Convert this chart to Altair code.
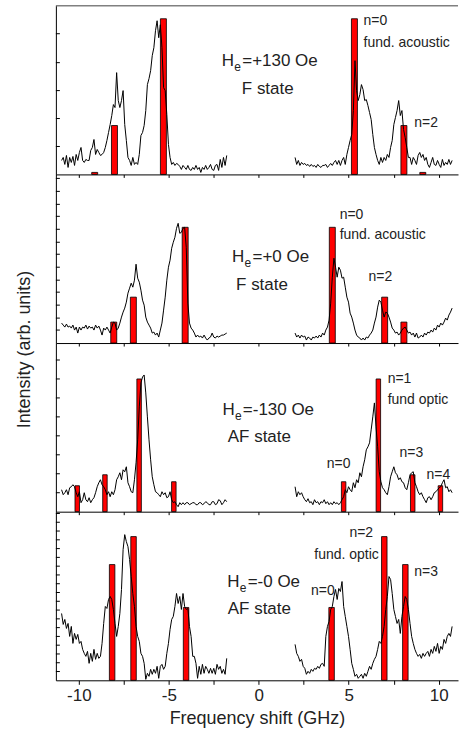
import altair as alt
import pandas as pd

FONT = "Liberation Sans"
TXT = "#222222"
W, H = 403, 169

# frequency grid (GHz) of the two measured branches
freq_left = [-10.96, -10.87, -10.78, -10.69, -10.60, -10.51, -10.42, -10.33, -10.24, -10.15,
             -10.06, -9.97, -9.88, -9.79, -9.70, -9.61, -9.52, -9.43, -9.34, -9.25,
             -9.16, -9.07, -8.98, -8.89, -8.80, -8.71, -8.62, -8.53, -8.44, -8.35,
             -8.26, -8.17, -8.08, -7.99, -7.90, -7.81, -7.72, -7.63, -7.54, -7.45,
             -7.36, -7.27, -7.18, -7.09, -7.00, -6.91, -6.82, -6.73, -6.64, -6.55,
             -6.46, -6.37, -6.28, -6.19, -6.10, -6.01, -5.92, -5.83, -5.74, -5.65,
             -5.56, -5.47, -5.38, -5.29, -5.20, -5.11, -5.02, -4.93, -4.84, -4.75,
             -4.66, -4.57, -4.48, -4.39, -4.30, -4.21, -4.12, -4.03, -3.94, -3.85,
             -3.76, -3.67, -3.58, -3.49, -3.40, -3.31, -3.22, -3.13, -3.04, -2.95,
             -2.86, -2.77, -2.68, -2.59, -2.50, -2.41, -2.32, -2.23, -2.14, -2.05,
             -1.96, -1.87, -1.78]
freq_right = [2.02, 2.11, 2.20, 2.29, 2.38, 2.47, 2.56, 2.65, 2.74, 2.83,
              2.92, 3.01, 3.10, 3.19, 3.28, 3.37, 3.46, 3.55, 3.64, 3.73,
              3.82, 3.91, 4.00, 4.09, 4.18, 4.27, 4.36, 4.45, 4.54, 4.63,
              4.72, 4.81, 4.90, 4.99, 5.08, 5.17, 5.26, 5.35, 5.44, 5.53,
              5.62, 5.71, 5.80, 5.89, 5.98, 6.07, 6.16, 6.25, 6.34, 6.43,
              6.52, 6.61, 6.70, 6.79, 6.88, 6.97, 7.06, 7.15, 7.24, 7.33,
              7.42, 7.51, 7.60, 7.69, 7.78, 7.87, 7.96, 8.05, 8.14, 8.23,
              8.32, 8.41, 8.50, 8.59, 8.68, 8.77, 8.86, 8.95, 9.04, 9.13,
              9.22, 9.31, 9.40, 9.49, 9.58, 9.67, 9.76, 9.85, 9.94, 10.03,
              10.12, 10.21, 10.30, 10.39, 10.48, 10.57, 10.66, 10.75]

# ---- panel 1: He=+130 Oe, F state
p1_left = [14, 17, 10, 19, 7, 17, 12, 18, 9, 20,
           14, 22, 27, 14, 12, 15, 14, 14, 24, 27,
           35, 20, 25, 22, 19, 20, 22, 27, 34, 42,
           50, 59, 70, 67, 102, 74, 67, 74, 84, 50,
           34, 17, 14, 9, 17, 10, 12, 10, 20, 39,
           42, 49, 64, 90, 96, 104, 119, 127, 144, 154,
           137, 150, 127, 87, 84, 60, 30, 17, 10, 12,
           9, 11, 10, 8, 5, 9, 7, 5, 9, 5,
           4, 7, 5, 9, 5, 7, 2, 7, 5, 9,
           5, 7, 10, 5, 4, 9, 10, 4, 15, 7,
           17, 9, 19]
p1_right = [17, 10, 14, 9, 12, 10, 11, 9, 10, 8,
            10, 8, 9, 7, 10, 8, 7, 9, 9, 10,
            7, 9, 11, 9, 12, 14, 10, 14, 9, 14,
            17, 10, 20, 27, 34, 40, 64, 114, 84, 74,
            80, 90, 85, 74, 75, 69, 62, 55, 40, 27,
            20, 14, 10, 17, 12, 17, 14, 20, 17, 27,
            34, 50, 57, 64, 74, 59, 64, 45, 37, 27,
            17, 17, 10, 17, 14, 10, 19, 22, 17, 20,
            14, 17, 10, 7, 12, 17, 10, 9, 14, 10,
            7, 15, 9, 12, 10, 15, 10, 14]
p1_bar_f = [-9.12, -8.02, -5.30, 5.32, 8.07, 9.12]
p1_bar_h = [2, 49, 156, 156, 49, 2]

# ---- panel 2: He=+0 Oe, F state
p2_left = [20, 18, 16, 19, 16, 17, 15, 18, 13, 16,
           10, 16, 13, 16, 15, 18, 14, 17, 15, 16,
           13, 18, 15, 17, 13, 8, 15, 13, 16, 13,
           10, 16, 21, 20, 13, 15, 20, 26, 31, 35,
           41, 50, 55, 60, 56, 63, 79, 65, 61, 53,
           43, 38, 26, 21, 18, 15, 10, 11, 8, 10,
           6, 13, 20, 33, 46, 63, 76, 83, 95, 101,
           106, 115, 120, 110, 111, 115, 116, 96, 40, 20,
           15, 13, 10, 6, 8, 6, 7, 5, 8, 5,
           3, 5, 6, 10, 6, 5, 7, 6, 7, 8,
           8, 9, 10]
p2_right = [10, 6, 8, 5, 8, 6, 7, 3, 6, 5,
            3, 6, 5, 7, 5, 8, 6, 10, 8, 13,
            16, 23, 40, 66, 85, 76, 66, 76, 73, 65,
            66, 56, 46, 41, 30, 26, 20, 13, 8, 6,
            5, 3, 5, 3, 6, 5, 8, 10, 13, 20,
            26, 36, 43, 41, 33, 26, 31, 30, 26, 21,
            15, 13, 10, 11, 8, 10, 13, 15, 16, 13,
            10, 11, 8, 10, 6, 10, 5, 6, 8, 6,
            10, 8, 11, 10, 13, 11, 15, 13, 18, 16,
            20, 18, 21, 25, 23, 28, 31, 35]
p2_bar_f = [-8.06, -6.97, -4.09, 4.09, 7.00, 8.07]
p2_bar_h = [21, 46, 116, 116, 46, 21]

# ---- panel 3: He=-130 Oe, AF state
p3_left = [22, 17, 19, 22, 17, 24, 25, 27, 25, 19,
           15, 20, 9, 12, 19, 12, 10, 14, 9, 12,
           14, 19, 25, 29, 32, 27, 25, 22, 17, 20,
           15, 20, 17, 22, 32, 35, 39, 32, 42, 40,
           45, 29, 25, 20, 19, 32, 49, 72, 105, 129,
           135, 137, 119, 95, 72, 52, 35, 27, 20, 19,
           17, 15, 20, 17, 19, 14, 15, 20, 12, 9,
           10, 7, 5, 9, 7, 9, 7, 9, 9, 7,
           8, 9, 9, 7, 7, 9, 9, 7, 8, 10,
           9, 7, 7, 10, 10, 7, 8, 12, 11, 7,
           9, 12, 10]
p3_right = [25, 15, 20, 17, 19, 15, 12, 10, 13, 9,
            10, 7, 12, 9, 10, 7, 10, 9, 12, 8,
            10, 7, 9, 7, 10, 8, 9, 7, 9, 12,
            15, 22, 19, 25, 22, 20, 29, 24, 32, 29,
            39, 35, 45, 52, 62, 65, 69, 82, 95, 109,
            85, 65, 40, 30, 24, 22, 19, 17, 25, 35,
            40, 45, 39, 37, 32, 34, 30, 29, 24, 22,
            29, 37, 39, 40, 29, 25, 20, 17, 19, 15,
            12, 9, 14, 15, 12, 15, 19, 20, 22, 24,
            25, 29, 32, 24, 25, 20, 22, 19]
p3_bar_f = [-10.09, -8.55, -6.65, -4.72, 4.72, 6.65, 8.56, 10.10]
p3_bar_h = [26, 37, 133, 30, 30, 133, 37, 26]

# ---- panel 4: He=-0 Oe, AF state
p4_left = [67, 56, 61, 52, 57, 44, 54, 37, 47, 41,
           46, 37, 39, 31, 27, 24, 29, 17, 27, 19,
           31, 21, 27, 22, 24, 37, 57, 74, 72, 81,
           84, 81, 71, 57, 44, 54, 67, 91, 131, 146,
           139, 134, 121, 104, 87, 74, 54, 44, 39, 27,
           24, 17, 1, 7, 4, 11, 6, 11, 7, 14,
           2, 14, 16, 11, 14, 27, 37, 51, 61, 64,
           74, 87, 77, 84, 71, 87, 74, 71, 72, 54,
           44, 24, 24, 17, 2, 14, 6, 16, 7, 14,
           11, 7, 12, 7, 12, 6, 16, 11, 14, 7,
           11, 6, 22]
p4_right = [36, 27, 24, 19, 21, 14, 12, 6, 9, 7,
            11, 9, 12, 11, 14, 12, 16, 17, 14, 44,
            54, 59, 71, 74, 84, 91, 81, 92, 89, 99,
            74, 64, 54, 44, 31, 17, 11, 4, 6, 2,
            4, 6, 2, 7, 4, 9, 14, 11, 17, 21,
            24, 31, 39, 37, 44, 54, 71, 84, 104, 101,
            87, 71, 64, 57, 61, 47, 64, 74, 84, 81,
            71, 57, 44, 37, 31, 27, 24, 26, 22, 27,
            24, 27, 29, 24, 31, 27, 34, 29, 37, 27,
            34, 31, 41, 37, 44, 47, 44, 54]
p4_bar_f = [-8.15, -6.96, -4.04, 4.05, 6.98, 8.15]
p4_bar_h = [116, 144, 73, 73, 144, 116]

# inner (left) axis tick values per panel
p1_ticks = [28, 56, 84, 112, 141]
p2_ticks = [13, 25, 38, 51, 63, 76, 89, 101, 114, 127, 139, 152, 165]
p3_ticks = [19, 38, 57, 76, 95, 114, 133, 152]
p4_ticks = [8.8, 17.6, 26.4, 35.2, 44, 52.8, 61.6, 70.4, 79.2, 88, 96.8,
            105.6, 114.4, 123.2, 132, 140.8, 149.6, 158.4, 167.2]

# mode annotations (text, freq, intensity)
p1_notes = [("n=0", 5.83, 154), ("fund. acoustic", 5.83, 132), ("n=2", 8.65, 52)]
p2_notes = [("n=0", 4.50, 128), ("fund. acoustic", 4.50, 108), ("n=2", 6.10, 66)]
p3_notes = [("n=0", 3.78, 48), ("n=1", 7.17, 133), ("fund optic", 7.17, 112),
            ("n=3", 7.83, 59), ("n=4", 9.33, 37)]
p4_notes = [("n=2", 5.04, 148), ("fund. optic", 3.09, 126), ("n=3", 8.65, 109),
            ("n=0", 2.91, 89)]

# field labels: (value text, freq, intensity), state: (text, freq, intensity)
p1_field = ("=+130 Oe", -2.05, 114)
p2_field = ("=+0 Oe", -1.48, 86)
p3_field = ("=-130 Oe", -2.02, 102)
p4_field = ("=-0 Oe", -1.75, 99)
p1_state = ("F state", -0.94, 86)
p2_state = ("F state", -1.26, 58)
p3_state = ("AF state", -1.72, 75)
p4_state = ("AF state", -1.72, 71)

xscale = alt.Scale(domain=[-11, 10.8], nice=False, zero=False)
yscale = alt.Scale(domain=[0, 169], nice=False, zero=True)
tick_vals = [-10, -7.5, -5, -2.5, 0, 2.5, 5, 7.5, 10]


def panel(left, right, bar_f, bar_h, bar_size, ticks, notes, field, state,
          bottom=False, ytitle=False, top=False):
    if bottom:
        xaxis = alt.Axis(values=tick_vals, labelExpr="datum.value % 5 === 0 ? '' + datum.value : ''",
                         tickSize=4, tickColor="black", domainColor="black", labelFont=FONT,
                         labelFontSize=17, labelColor=TXT, labelPadding=3, title="Frequency shift (GHz)",
                         titleFont=FONT, titleFontSize=18, titleFontWeight="normal", titleColor=TXT,
                         titlePadding=6, grid=False, zindex=1)
    else:
        xaxis = alt.Axis(values=tick_vals, labels=False, tickSize=3, tickColor="black",
                         domainColor="black", title=None, grid=False, zindex=1)
    if ytitle:
        yaxis = alt.Axis(ticks=False, labels=False, domainColor="black", grid=False,
                         title="Intensity (arb. units)", titleFont=FONT, titleFontSize=18,
                         titleFontWeight="normal", titleColor=TXT, titleX=-31, titleY=175,
                         titleAngle=270, titleAlign="center", titleBaseline="middle", zindex=1)
    else:
        yaxis = alt.Axis(ticks=False, labels=False, domainColor="black", grid=False, title=None, zindex=1)

    X = lambda f: alt.X(f, type="quantitative", scale=xscale, axis=xaxis)
    Y = lambda f: alt.Y(f, type="quantitative", scale=yscale, axis=yaxis)

    spec = pd.DataFrame({
        "f": freq_left + freq_right,
        "I": left + right,
        "seg": ["anti-Stokes"] * len(freq_left) + ["Stokes"] * len(freq_right),
    })
    bars = pd.DataFrame({"f": bar_f, "I": bar_h})
    tk = pd.DataFrame({"t": ticks})
    nt = pd.DataFrame(notes, columns=["txt", "f", "I"])
    fd = pd.DataFrame([field], columns=["txt", "f", "I"])
    st = pd.DataFrame([state], columns=["txt", "f", "I"])

    layers = [
        alt.Chart(bars).mark_bar(size=bar_size, color="#ff0000", stroke="black", strokeWidth=0.8)
        .encode(x=X("f"), y=Y("I")),
        alt.Chart(spec).mark_line(color="black", strokeWidth=1)
        .encode(x=X("f"), y=Y("I"), detail="seg:N"),
        alt.Chart(tk).mark_rule(color="black", strokeWidth=1)
        .encode(y=Y("t"), x=alt.value(0), x2=alt.value(4)),
        alt.Chart(nt).mark_text(align="left", baseline="middle", font=FONT, fontSize=14, color=TXT)
        .encode(x=X("f"), y=Y("I"), text="txt:N"),
        alt.Chart(fd).mark_text(align="left", baseline="middle", font=FONT, fontSize=17, color=TXT)
        .encode(x=X("f"), y=Y("I"), text=alt.value("H")),
        alt.Chart(fd).mark_text(align="left", baseline="middle", font=FONT, fontSize=12, color=TXT,
                                dx=12.5, dy=6)
        .encode(x=X("f"), y=Y("I"), text=alt.value("e")),
        alt.Chart(fd).mark_text(align="left", baseline="middle", font=FONT, fontSize=17, color=TXT,
                                dx=20.5)
        .encode(x=X("f"), y=Y("I"), text="txt:N"),
        alt.Chart(st).mark_text(align="left", baseline="middle", font=FONT, fontSize=17, color=TXT)
        .encode(x=X("f"), y=Y("I"), text="txt:N"),
    ]
    if top:
        layers.append(
            alt.Chart(st).mark_rule(color="#808080", strokeWidth=1.5)
            .encode(x=alt.value(0), x2=alt.value(W), y=alt.value(0))
        )
    return alt.layer(*layers).properties(width=W, height=H)


c1 = panel(p1_left, p1_right, p1_bar_f, p1_bar_h, 6, p1_ticks, p1_notes, p1_field, p1_state, top=True)
c2 = panel(p2_left, p2_right, p2_bar_f, p2_bar_h, 6, p2_ticks, p2_notes, p2_field, p2_state, ytitle=True)
c3 = panel(p3_left, p3_right, p3_bar_f, p3_bar_h, 4.5, p3_ticks, p3_notes, p3_field, p3_state)
c4 = panel(p4_left, p4_right, p4_bar_f, p4_bar_h, 5.5, p4_ticks, p4_notes, p4_field, p4_state, bottom=True)

chart = (
    alt.vconcat(c1, c2, c3, c4, spacing=0, bounds="flush")
    .properties(padding={"left": 16, "top": 4, "right": 0, "bottom": 0}, background="white")
    .configure_view(stroke=None)
    .configure_axis(domainWidth=1, tickWidth=1)
)

chart.save("out.html", embed_options={"renderer": "svg", "actions": False})
